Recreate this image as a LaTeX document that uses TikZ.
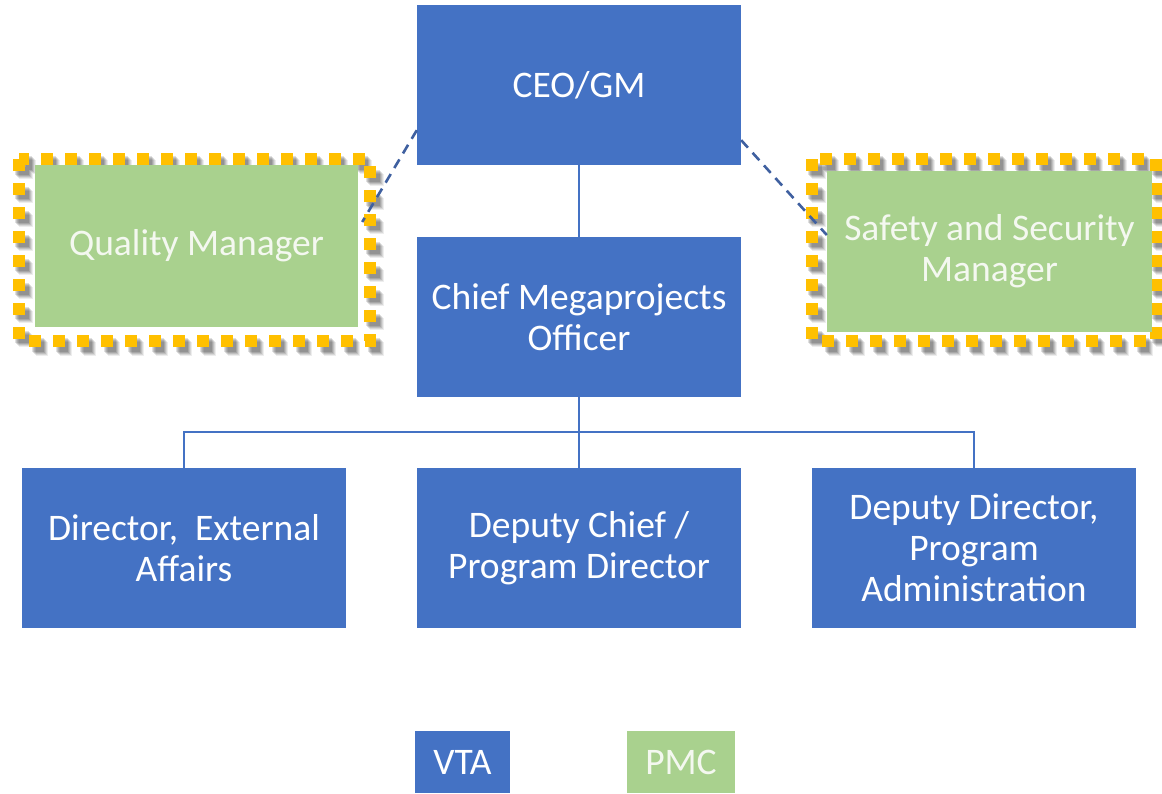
\documentclass[tikz,border=0pt]{standalone}
\usepackage{fontspec}
\setmainfont{Carlito}
\usetikzlibrary{positioning}
\definecolor{vtablue}{HTML}{4472C4}
\definecolor{pmcgreen}{HTML}{A9D18E}
\definecolor{dotorange}{HTML}{FFC000}
\definecolor{dashblue}{HTML}{3F60A0}
\definecolor{lighttext}{HTML}{F4F8F0}
\tikzset{
  x=1pt, y=-1pt,
  vtabox/.style={rectangle, fill=vtablue, text=white, minimum width=324pt, minimum height=160pt,
    align=center, font=\fontsize{37.5}{41}\selectfont, inner sep=0pt},
  pmcbox/.style={rectangle, fill=pmcgreen, text=lighttext, minimum width=323pt, minimum height=162pt,
    align=center, font=\fontsize{37.5}{41}\selectfont, inner sep=0pt},
  conn/.style={draw=vtablue, line width=1.8pt},
  dashconn/.style={draw=dashblue, line width=2.6pt, dash pattern=on 10pt off 7pt},
  dotborder/.style={draw=dotorange, line width=12.5pt, dash pattern=on 12pt off 12pt},
  dotshadow/.style={draw=black, line width=14pt, dash pattern=on 12pt off 12pt},
  legbox/.style={rectangle, text=white, minimum height=62pt, inner sep=0pt,
    font=\fontsize{37.5}{41}\selectfont},
}
\begin{document}
\begin{tikzpicture}
\useasboundingbox (0,0) rectangle (1162,793);
\fill[white] (0,0) rectangle (1162,793);

% dotted borders with soft shadow
\foreach \dx/\dy/\op in {7/8/0.07,6/7/0.09,5/6/0.11,4/5/0.12,3/4/0.12}{
  \draw[dotshadow, opacity=\op, shift={(\dx,\dy)}] (19,159) rectangle (370,341);
  \draw[dotshadow, opacity=\op, shift={(\dx,\dy)}] (812,159) rectangle (1156,341);
}
\draw[dotborder] (19,159) rectangle (370,341);
\draw[dotborder] (812,159) rectangle (1156,341);

% nodes
\node[vtabox] (ceo) at (579,85) {CEO/GM};
\node[vtabox] (cmo) at (579,317) {Chief Megaprojects\\Officer};
\node[pmcbox] (qm) at (196.5,246) {Quality Manager};
\node[pmcbox, minimum width=325pt, minimum height=161pt] (ssm) at (989.5,251.5) {Safety and Security\\Manager};
\node[vtabox] (dea) at (184,548) {Director,\ \ External\\Affairs};
\node[vtabox] (dcp) at (579,548) {Deputy Chief /\\Program Director};
\node[vtabox] (ddp) at (974,548) {Deputy Director,\\Program\\Administration};

\node[legbox, fill=vtablue, minimum width=95pt] (vta) at (462.5,762) {VTA};
\node[legbox, fill=pmcgreen, text=lighttext, minimum width=108pt] (pmc) at (681,762) {PMC};

% connectors
\draw[conn] (ceo.south) -- (cmo.north);
\coordinate (bar) at (579,432);
\draw[conn] (cmo.south) -- (dcp.north);
\draw[conn] (dea.north) -- (dea.north |- bar) -- (ddp.north |- bar) -- (ddp.north);

\draw[dashconn] ([yshift=35pt]ceo.south west) -- ([xshift=4pt,yshift=24pt]qm.east);
\draw[dashconn] ([yshift=25pt]ceo.south east) -- ([yshift=16.5pt]ssm.west);
\end{tikzpicture}
\end{document}
